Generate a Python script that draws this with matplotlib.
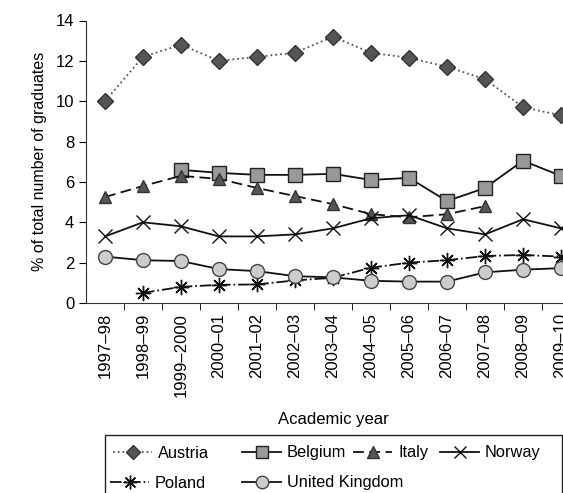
import matplotlib
matplotlib.use("Agg")
import matplotlib.pyplot as plt
import numpy as np
from matplotlib.patches import Rectangle

plt.rcParams["font.family"] = ["Liberation Sans", "DejaVu Sans"]

# ------------------------------------------------------------
# Data
# ------------------------------------------------------------
years = ["1997\u201398", "1998\u201399", "1999\u20132000", "2000\u201301",
         "2001\u201302", "2002\u201303", "2003\u201304", "2004\u201305",
         "2005\u201306", "2006\u201307", "2007\u201308", "2008\u201309",
         "2009\u201310"]

austria = [10.0, 12.2, 12.8, 12.0, 12.2, 12.4, 13.2, 12.4, 12.15, 11.7, 11.1, 9.7, 9.3]
belgium = [np.nan, np.nan, 6.6, 6.45, 6.35, 6.35, 6.4, 6.1, 6.2, 5.05, 5.7, 7.05, 6.3]
italy = [5.25, 5.8, 6.3, 6.15, 5.7, 5.3, 4.9, 4.4, 4.25, 4.4, 4.8, np.nan, np.nan]
norway = [3.3, 4.0, 3.8, 3.3, 3.3, 3.4, 3.7, 4.2, 4.35, 3.7, 3.4, 4.15, 3.7]
poland = [np.nan, 0.5, 0.8, 0.9, 0.92, 1.12, 1.25, 1.75, 2.0, 2.12, 2.33, 2.38, 2.3]
uk = [2.3, 2.12, 2.08, 1.68, 1.58, 1.33, 1.27, 1.1, 1.06, 1.06, 1.52, 1.65, 1.73]

# ------------------------------------------------------------
# Plot
# ------------------------------------------------------------
W, H = 563, 493
fig = plt.figure(figsize=(W / 100, H / 100), dpi=100)
ax = fig.add_axes([86 / W, 1 - 303 / H, 494 / W, (303 - 20.5) / H])

x = np.arange(len(years))
lw = 1.3

h_aus, = ax.plot(x, austria, linestyle=":", color="#555555", linewidth=1.3,
                 marker="D", markersize=8, markerfacecolor="#555555",
                 markeredgecolor="#333333", label="Austria")
h_bel, = ax.plot(x, belgium, linestyle="-", color="#111111", linewidth=lw,
                 marker="s", markersize=10, markerfacecolor="#999999",
                 markeredgecolor="#222222", label="Belgium")
h_ita, = ax.plot(x, italy, linestyle=(0, (6, 3)), color="#111111", linewidth=lw,
                 marker="^", markersize=9, markerfacecolor="#555555",
                 markeredgecolor="#333333", label="Italy")
h_nor, = ax.plot(x, norway, linestyle="-", color="#111111", linewidth=lw,
                 marker="x", markersize=10, markeredgewidth=1.0, label="Norway")
h_pol, = ax.plot(x, poland, linestyle="-.", color="#111111", linewidth=lw,
                 marker=(8, 2, 0), markersize=11, markeredgewidth=1.0,
                 label="Poland")
h_uk, = ax.plot(x, uk, linestyle="-", color="#111111", linewidth=lw,
                marker="o", markersize=10, markerfacecolor="#cccccc",
                markeredgecolor="#444444", label="United Kingdom")

ax.set_xlim(-0.5, len(years) - 0.5)
ax.set_ylim(0, 14)
ax.set_yticks(np.arange(0, 15, 2))
ax.set_xticks(x)
ax.set_xticklabels(years, rotation=90, fontsize=12)
ax.set_xticks(np.arange(0.5, len(years), 1), minor=True)
ax.tick_params(axis="x", which="major", length=0, pad=7)
ax.tick_params(axis="x", which="minor", length=5, direction="out")
ax.tick_params(axis="y", labelsize=12, length=5, direction="out")

for side in ["top", "right"]:
    ax.spines[side].set_visible(False)
for side in ["left", "bottom"]:
    ax.spines[side].set_color("#333333")

ax.set_ylabel("% of total number of graduates", fontsize=11.5, labelpad=6)
ax.set_xlabel("Academic year", fontsize=12, labelpad=11)

# Legend: items laid out in rows like the original (not a grid)
legend_items = [
    (h_aus, "Austria", 113, 453),
    (h_bel, "Belgium", 242, 453),
    (h_ita, "Italy", 353, 453),
    (h_nor, "Norway", 440, 453),
    (h_pol, "Poland", 110, 483),
    (h_uk, "United Kingdom", 242, 483),
]
for handle, label, px, py in legend_items:
    fig.legend([handle], [label], loc="center left",
               bbox_to_anchor=(px / W, 1 - py / H),
               fontsize=11.8, frameon=False, borderpad=0, borderaxespad=0,
               handlelength=2.4, handletextpad=0.35, markerscale=0.9)

fig.patches.append(Rectangle((105 / W, -0.05), 457 / W, 0.05 + 1 - 435 / H,
                             transform=fig.transFigure, fill=False,
                             edgecolor="#222222", linewidth=1.0))

plt.savefig("out.png", dpi=100)
